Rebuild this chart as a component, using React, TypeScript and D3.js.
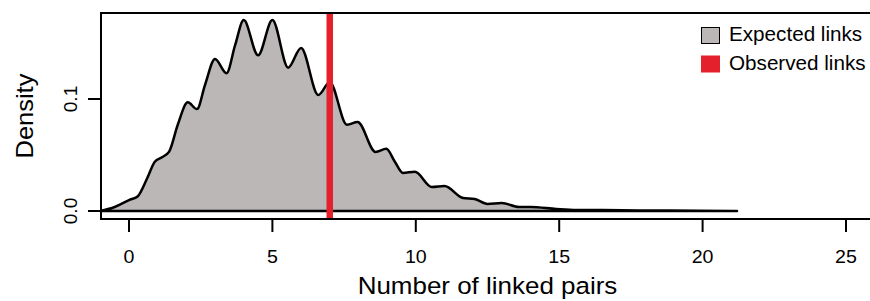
import * as d3 from "d3";

// density (number of linked pairs vs density)
const pairs = [
  -1.0, -0.5, 0.0, 0.3, 0.63, 0.9, 1.15, 1.4, 1.7, 2.05, 2.37, 2.65, 3.0, 3.4, 3.7, 4.0,
  4.5, 5.0, 5.55, 6.0, 6.6, 7.0, 7.6, 7.97, 8.6, 8.97, 9.27, 9.55, 9.97, 10.56, 11.0,
  11.65, 12.05, 12.5, 13.0, 13.6, 14.0, 14.9, 15.6, 16.5, 17.8, 19.9, 21.2,
];
const density = [
  0.0, 0.0036, 0.0098, 0.013, 0.029, 0.044, 0.048, 0.053, 0.077, 0.097, 0.091, 0.1125,
  0.1357, 0.123, 0.148, 0.1705, 0.139, 0.1705, 0.128, 0.1455, 0.1036, 0.115, 0.077,
  0.0795, 0.0527, 0.0555, 0.044, 0.034, 0.035, 0.0214, 0.0223, 0.0116, 0.0107, 0.0063,
  0.0071, 0.0036, 0.0036, 0.0018, 0.0009, 0.0008, 0.0005, 0.0003, 0.0,
];
const observed = 7;
const xTicks = [0, 5, 10, 15, 20, 25];
const yTicks = [0, 0.1];
const legendLabels = ["Expected links", "Observed links"];

const W = 870;
const H = 301;
const FONT = "'Liberation Sans', Arial, Helvetica, sans-serif";
const GRAY = "#bab7b6";
const RED = "#e3202b";
// the reference text is a touch wider than it is tall
const SX = 1.06;

export default function App() {
  const x = d3.scaleLinear().domain([0, 25]).range([129, 846]);
  const y = d3.scaleLinear().domain([0, 0.1]).range([211, 99]);
  const box = { left: 101, top: 13, bottom: 219, right: W + 5 };

  const pts: [number, number][] = pairs.map((p, i) => [p, density[i]]);
  const line = d3
    .line<[number, number]>()
    .x((d) => x(d[0]))
    .y((d) => y(d[1]))
    .curve(d3.curveMonotoneX);
  const poly = line(pts) + "Z";

  return (
    <svg
      width={W}
      height={H}
      style={{ position: "absolute", left: 0, top: 0, background: "#fff" }}
      fontFamily={FONT}
    >
      <defs>
        <clipPath id="plot">
          <rect x={box.left} y={box.top} width={box.right - box.left} height={box.bottom - box.top} />
        </clipPath>
      </defs>

      <g clipPath="url(#plot)">
        <path d={poly} fill={GRAY} stroke="#000" strokeWidth={2.5} strokeLinejoin="round" />
        <line
          x1={x(observed)}
          x2={x(observed)}
          y1={box.top}
          y2={box.bottom}
          stroke={RED}
          strokeWidth={6.5}
        />
      </g>

      {/* box */}
      <path
        d={`M${box.right},${box.top}H${box.left}V${box.bottom}H${box.right}`}
        fill="none"
        stroke="#000"
        strokeWidth={2}
      />

      {/* x axis */}
      {xTicks.map((t) => (
        <g key={t}>
          <line x1={x(t)} x2={x(t)} y1={box.bottom} y2={box.bottom + 13} stroke="#000" strokeWidth={2} />
          <text transform={`translate(${x(t)},263) scale(${SX},1)`} textAnchor="middle" fontSize={18.5}>
            {t}
          </text>
        </g>
      ))}
      <text
        transform={`translate(${(x(0) + x(25)) / 2 + 0},294) scale(${SX},1)`}
        textAnchor="middle"
        fontSize={24.5}
      >
        Number of linked pairs
      </text>

      {/* y axis */}
      {yTicks.map((t) => (
        <g key={t}>
          <line x1={box.left - 13} x2={box.left} y1={y(t)} y2={y(t)} stroke="#000" strokeWidth={2} />
          <text
            transform={`translate(77,${y(t)}) rotate(-90) scale(${SX},1)`}
            textAnchor="middle"
            fontSize={18}
          >
            {d3.format(".1f")(t)}
          </text>
        </g>
      ))}
      <text transform={`translate(33,116) rotate(-90) scale(${SX},1)`} textAnchor="middle" fontSize={24}>
        Density
      </text>

      {/* legend */}
      {legendLabels.map((lab, i) => (
        <g key={lab} transform={`translate(701,${27 + i * 28.5})`}>
          <rect
            x={i === 0 ? 0.5 : 0}
            y={i === 0 ? 0.5 : 0}
            width={i === 0 ? 18 : 19}
            height={i === 0 ? 16 : 17}
            fill={i === 0 ? GRAY : RED}
            stroke={i === 0 ? "#000" : "none"}
            strokeWidth={1}
          />
          <text transform={`translate(28,14) scale(${SX},1)`} fontSize={19.5}>
            {lab}
          </text>
        </g>
      ))}
    </svg>
  );
}
